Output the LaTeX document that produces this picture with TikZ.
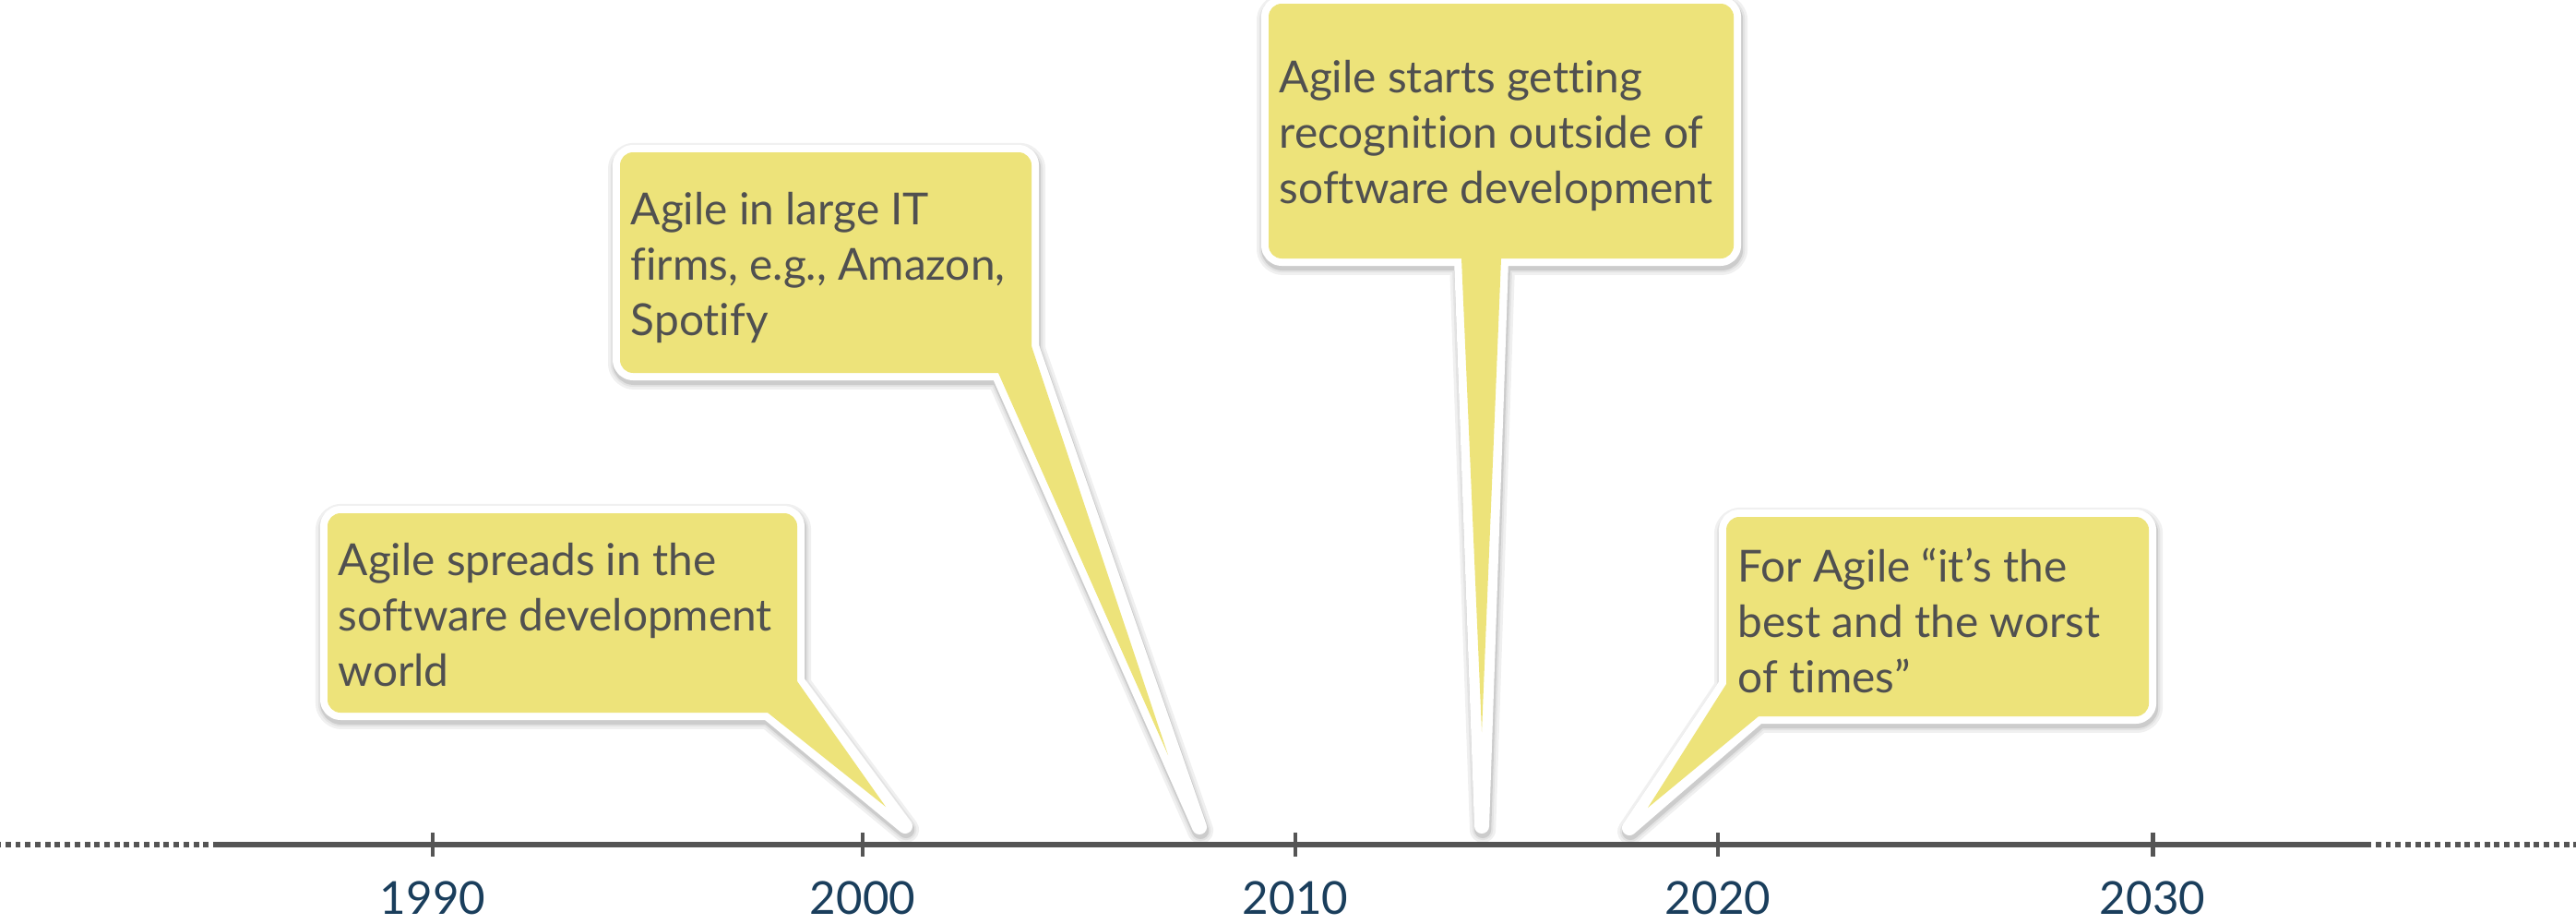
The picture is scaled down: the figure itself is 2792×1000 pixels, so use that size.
\documentclass[tikz,border=0pt]{standalone}
\usepackage{fontspec}
\setmainfont{Lato}[Ligatures=NoCommon]
\definecolor{bubbleyellow}{RGB}{237,227,122}
\definecolor{bubbletext}{RGB}{80,80,80}
\definecolor{axisgray}{RGB}{85,85,85}
\definecolor{yearblue}{RGB}{26,62,92}
\tikzset{
  btext/.style={anchor=north west, inner sep=0pt, align=left, text=bubbletext,
                font=\fontsize{13.6pt}{17pt}\selectfont},
  yearlabel/.style={anchor=base, inner sep=0pt, text=yearblue,
                font=\fontsize{14pt}{16pt}\selectfont},
  axisline/.style={draw=axisgray, line width=1.8pt},
  axisdots/.style={draw=axisgray, line width=1.8pt, dash pattern=on 1.7pt off 1.35pt},
  tickline/.style={draw=axisgray, line width=1.4pt},
  shadowA/.style={draw=black!6, fill=black!6, line width=8pt, line join=round},
  shadowB/.style={draw=black!11, fill=black!11, line width=6.4pt, line join=round},
  shadowC/.style={draw=black!20, fill=black!20, line width=5.2pt, line join=round},
  whiteedge/.style={draw=white, fill=white, line width=4.55pt, line join=round},
  yellowfill/.style={fill=bubbleyellow},
}
\newcommand\bubblelayer[3]{%
  \path[#2, rounded corners=4pt] (#1nw) rectangle (#1se);
  \path[#2] (#1p) -- (#1#3) -- (#1q) -- cycle;}
\newcommand\drawbubble[1]{%
  \begin{scope}[transform canvas={shift={(0.3pt,-1.1pt)}}]
    \bubblelayer{#1}{shadowA}{tw}
    \bubblelayer{#1}{shadowB}{tw}
    \bubblelayer{#1}{shadowC}{tw}
  \end{scope}
  \bubblelayer{#1}{whiteedge}{tw}
  \bubblelayer{#1}{yellowfill}{ty}}
\begin{document}
\begin{tikzpicture}[x=0.01cm, y=-0.01cm]
\useasboundingbox (0,0) rectangle (2792,1000);

% ---- bubble A (1990s)
\coordinate (Anw) at (355,556);  \coordinate (Ase) at (864,772);
\coordinate (Ap) at (832,772);   \coordinate (Aq) at (864,738);
\coordinate (Aty) at (960,874);  \coordinate (Atw) at (981,895);
% ---- bubble B
\coordinate (Bnw) at (672,165);  \coordinate (Bse) at (1118,404);
\coordinate (Bp) at (1082,404);  \coordinate (Bq) at (1118,375);
\coordinate (Bty) at (1266,818); \coordinate (Btw) at (1300,896);
% ---- bubble C
\coordinate (Cnw) at (1375,4);   \coordinate (Cse) at (1879,280);
\coordinate (Cp) at (1584,280);  \coordinate (Cq) at (1627,280);
\coordinate (Cty) at (1606,793); \coordinate (Ctw) at (1606,895);
% ---- bubble D
\coordinate (Dnw) at (1871,560); \coordinate (Dse) at (2329,776);
\coordinate (Dp) at (1871,741);  \coordinate (Dq) at (1906,776);
\coordinate (Dty) at (1786,875); \coordinate (Dtw) at (1766,897);

\drawbubble{A}
\drawbubble{B}
\drawbubble{C}
\drawbubble{D}

\node[btext] (textA) at (366,581) {\rule{0pt}{12pt}Agile spreads in the\\software development\\world};
\node[btext] (textB) at (683,201) {\rule{0pt}{12pt}Agile in large IT\\firms, e.g., Amazon,\\Spotify};
\node[btext] (textC) at (1386,58) {\rule{0pt}{12pt}Agile starts getting\\recognition outside of\\software development};
\node[btext] (textD) at (1883,588) {\rule{0pt}{12pt}For Agile “it’s the\\best and the worst\\of times”};

% ---- timeline
\coordinate (L0) at (0,915);    \coordinate (L1) at (237,915);
\coordinate (R1) at (2564,915); \coordinate (R0) at (2792,915);
\draw[axisdots] (L1) -- (L0);
\draw[axisdots] (R1) -- (R0);
\draw[axisline] (L1) -- (R1);
\foreach \yr/\xx in {1990/469, 2000/935, 2010/1404, 2020/1862, 2030/2333}{
  \coordinate (t\yr) at (\xx,915);
  \draw[tickline] (t\yr) ++(0,-13) -- ++(0,26);
  \node[yearlabel] (y\yr) at (\xx,990) {\yr};
}
\end{tikzpicture}
\end{document}
